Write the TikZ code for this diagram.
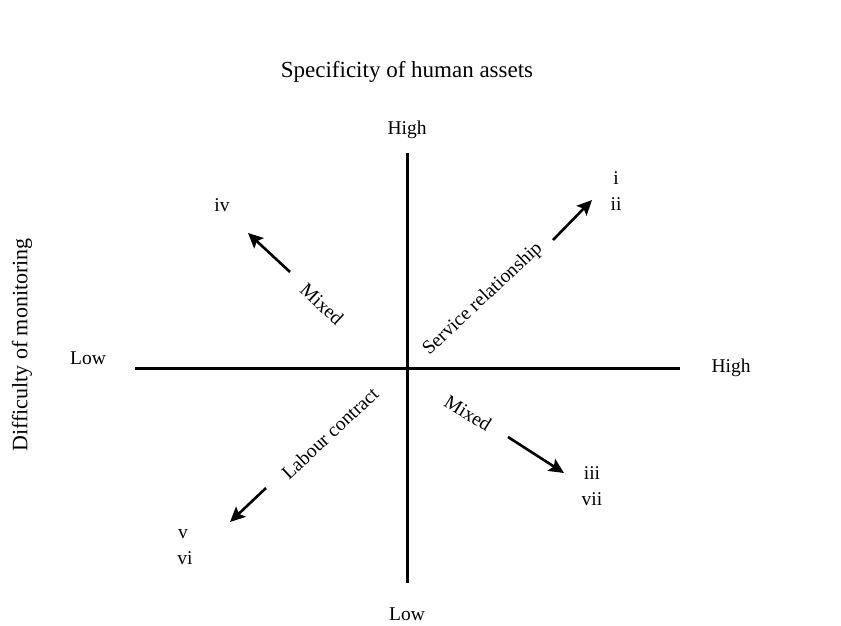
\documentclass[tikz,border=0pt]{standalone}
\usepackage{fontspec}
\setmainfont{Liberation Serif}
\usetikzlibrary{arrows.meta}
\begin{document}
\begin{tikzpicture}[x=1pt,y=-1pt,
  lab/.style={font=\fontsize{19.5}{22}\selectfont, inner sep=0pt},
  axis/.style={line width=3pt},
  dirarrow/.style={line width=2.6pt,-{Stealth[length=15pt,width=14pt,inset=3pt]}}]
\useasboundingbox (0,0) rectangle (841,626);
% axes
\coordinate (vt) at (407,153);
\coordinate (vb) at (407,583);
\coordinate (hl) at (135,368);
\coordinate (hr) at (680,368);
\draw[axis] (vt) -- (vb);
\draw[axis] (hl) -- (hr);
% titles
\node[lab, font=\fontsize{23}{26}\selectfont] (title) at (407,72) {Specificity of human assets};
\node[lab, font=\fontsize{22}{25}\selectfont, rotate=90] (ylab) at (22,345) {Difficulty of monitoring};
\node[lab] (hightop) at (407,130) {High};
\node[lab] (lowbot) at (407,614) {Low};
\node[lab] (lowleft) at (88,358) {Low};
\node[lab] (highright) at (731,368) {High};
% quadrant labels
\node[lab] (iv) at (222,205) {iv};
\node[lab] (i) at (616,178) {i};
\node[lab] (ii) at (616,204) {ii};
\node[lab] (iii) at (592,473) {iii};
\node[lab] (vii) at (592,499) {vii};
\node[lab] (v) at (183,534) {v};
\node[lab] (vi) at (185,558) {vi};
% arrows
\coordinate (a1s) at (290,272); \coordinate (a1e) at (248,233);
\coordinate (a2s) at (553,240); \coordinate (a2e) at (592,200);
\coordinate (a3s) at (508,437); \coordinate (a3e) at (564,473);
\coordinate (a4s) at (266,488); \coordinate (a4e) at (230,522);
\draw[dirarrow] (a1s) -- (a1e);
\draw[dirarrow] (a2s) -- (a2e);
\draw[dirarrow] (a3s) -- (a3e);
\draw[dirarrow] (a4s) -- (a4e);
% rotated texts
\node[lab, rotate=-43] (mixed1) at (322,304) {Mixed};
\node[lab, rotate=43] (service) at (483,299) {Service relationship};
\node[lab, rotate=-32] (mixed2) at (468,413) {Mixed};
\node[lab, rotate=43] (labour) at (330,433) {Labour contract};
\end{tikzpicture}
\end{document}
